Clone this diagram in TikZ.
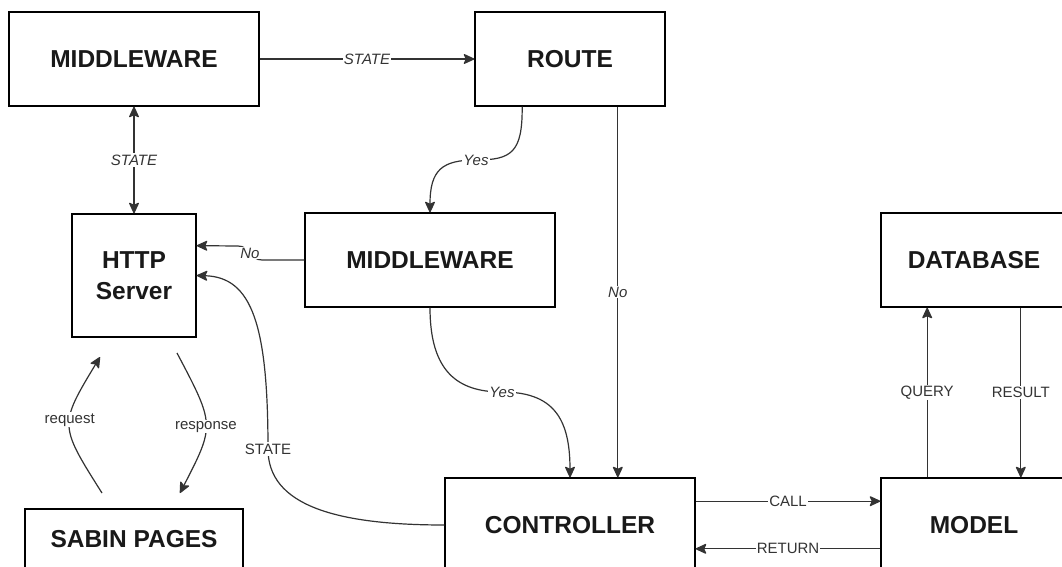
\documentclass[tikz,border=0pt]{standalone}
\usepackage{fontspec}
\setmainfont{Liberation Sans}
\usetikzlibrary{arrows.meta,calc}
\tikzset{myhead/.tip={Stealth[length=12pt,width=11pt,inset=2.5pt,round=false]}}
\begin{document}
\begin{tikzpicture}[x=1pt,y=-1pt,
  box/.style={draw=black,line width=1.3pt,fill=white,align=center,inner sep=0pt,
    font=\fontsize{24.5}{31}\selectfont\bfseries,text=black!90},
  conn/.style={draw=black!80,line width=1.2pt,-myhead},
  conn2/.style={draw=black!80,line width=1.2pt,myhead-myhead},
  lbl/.style={fill=white,inner sep=1.2pt,text=black!80,font=\fontsize{15}{17}\selectfont},
  ilbl/.style={lbl,font=\fontsize{15}{17}\selectfont\itshape}]
\useasboundingbox (0,0) rectangle (1062,567);
\fill[white] (0,0) rectangle (1062,567);
\clip (0,0) rectangle (1062,567);

% boxes
\node[box,minimum width=250pt,minimum height=94pt] (mw1) at (134,59) {MIDDLEWARE};
\node[box,minimum width=190pt,minimum height=94pt] (route) at (570,59) {ROUTE};
\node[box,minimum width=124pt,minimum height=123pt] (http) at (134,275.5) {HTTP\\Server};
\node[box,minimum width=250pt,minimum height=94pt] (mw2) at (430,260) {MIDDLEWARE};
\node[box,minimum width=186pt,minimum height=94pt] (db) at (974,260) {DATABASE};
\node[box,minimum width=250pt,minimum height=94pt] (ctrl) at (570,525) {CONTROLLER};
\node[box,minimum width=186pt,minimum height=94pt] (model) at (974,525) {MODEL};
\node[box,minimum width=218pt,minimum height=60pt] (sabin) at (134,539) {SABIN PAGES};

% helper coordinates
\coordinate (yesA) at ($(route.south west)!0.25!(route.south east)$);
\coordinate (noA) at ($(route.south west)!0.75!(route.south east)$);
\coordinate (noL) at ($(http.north east)!0.26!(http.south east)$);
\coordinate (callA) at ($(ctrl.north east)!0.25!(ctrl.south east)$);
\coordinate (retA) at ($(model.north west)!0.75!(model.south west)$);
\coordinate (qA) at ($(model.north west)!0.25!(model.north east)$);
\coordinate (rA) at ($(db.south west)!0.75!(db.south east)$);
\coordinate (reqS) at (102,493);
\coordinate (reqE) at (100,357);
\coordinate (resS) at (177,353);
\coordinate (resE) at (180,493);

% connectors
\draw[conn] (mw1.east) -- node[ilbl]{STATE} (route.west);
\draw[conn2] (mw1.south) -- node[ilbl]{STATE} (http.north);
\draw[conn] (yesA) .. controls (522.5,152) and (512,160) .. (476,160) node[ilbl]{Yes}
  .. controls (442,160) and (430,170) .. (mw2.north);
\draw[conn] (noA) -- node[ilbl,pos=0.5]{No} (noA |- ctrl.north);
\draw[conn] (mw2.west) -- (262,260) .. controls (250,260) and (250,246) .. node[ilbl,pos=0.5]{No} (238,246) -- (noL);
\draw[conn] (mw2.south) .. controls (430,372) and (458,392) .. (502,392) node[ilbl]{Yes}
  .. controls (553,392) and (570,418) .. (ctrl.north);
\draw[conn] (ctrl.west) .. controls (335,525) and (268,505) .. (268,449) node[lbl]{STATE}
  .. controls (268,325) and (252,277) .. (http.east);
\draw[conn] (callA) -- node[lbl]{CALL} (callA -| model.west);
\draw[conn] (retA) -- node[lbl]{RETURN} (retA -| ctrl.east);
\draw[conn] (qA) -- node[lbl]{QUERY} (qA |- db.south);
\draw[conn] (rA) -- node[lbl]{RESULT} (rA |- model.north);
\draw[conn] (reqS) .. controls (59,425) .. node[lbl,pos=0.55]{request} (reqE);
\draw[conn] (resS) .. controls (215,425) .. node[lbl,pos=0.52]{response} (resE);
\end{tikzpicture}
\end{document}
